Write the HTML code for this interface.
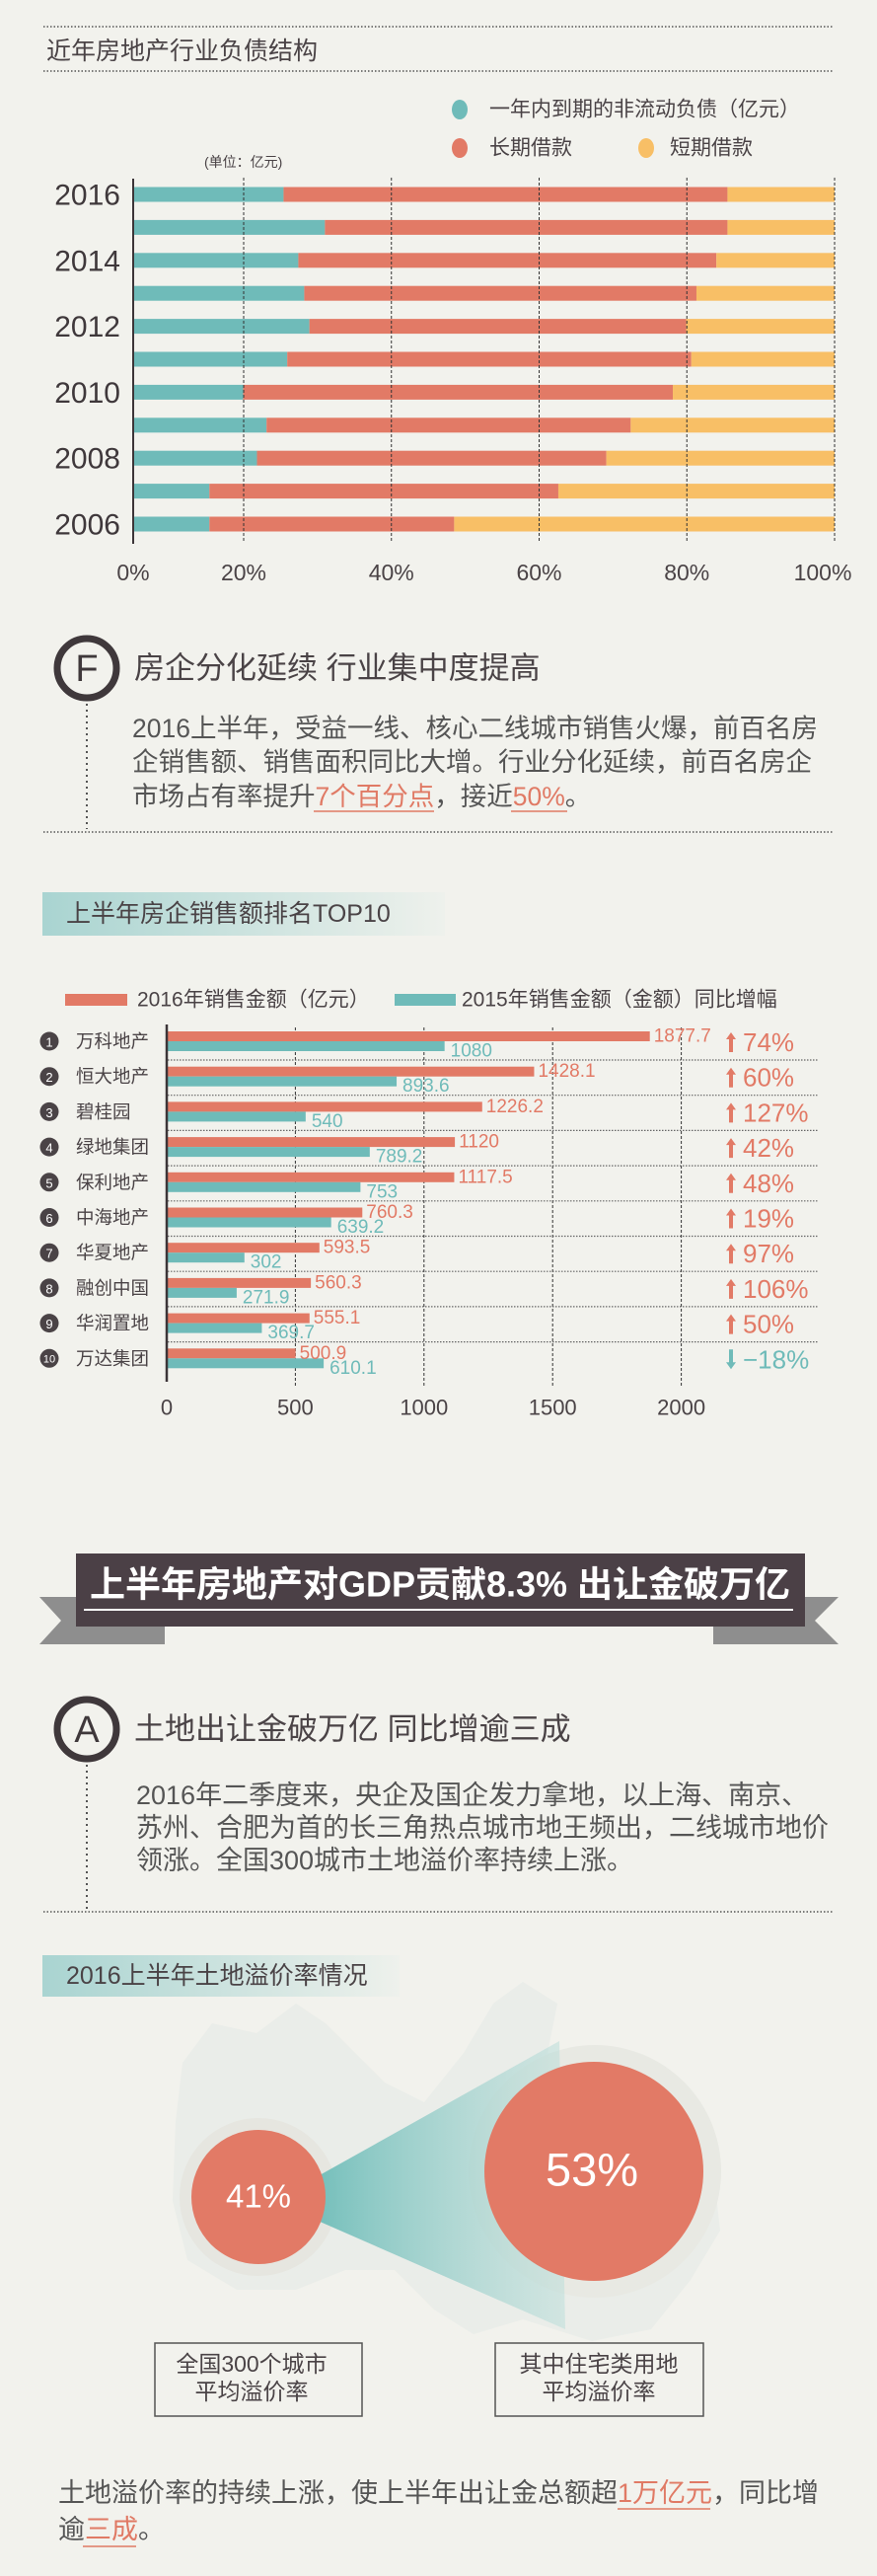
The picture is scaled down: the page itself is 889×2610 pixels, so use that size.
<!DOCTYPE html>
<html><head><meta charset="utf-8">
<style>
html,body{margin:0;padding:0;background:#f2f2ed;}
svg{display:block;}
text{font-family:"Liberation Sans","Noto Sans CJK SC",sans-serif;}
</style></head>
<body>
<svg id="page" width="889" height="2610" viewBox="0 0 889 2610" xmlns="http://www.w3.org/2000/svg">
<defs>
<linearGradient id="tbg" x1="0" x2="1" y1="0" y2="0"><stop offset="0" stop-color="#a9d4d1"/><stop offset="1" stop-color="#eef1ec"/></linearGradient>
<linearGradient id="cone" x1="0" x2="1" y1="0" y2="0"><stop offset="0" stop-color="#6fbdb9" stop-opacity="0.95"/><stop offset="1" stop-color="#b9ddd9" stop-opacity="0.5"/></linearGradient>
</defs>
<rect width="889" height="2610" fill="#f2f2ed"/>

<!-- Section 1 -->
<g>
<line x1="44" y1="27" x2="845" y2="27" stroke="#555" stroke-width="1.5" stroke-dasharray="1.5 2"/>
<text x="47" y="52" font-size="25" fill="#4a4346" dominant-baseline="central">近年房地产行业负债结构</text>
<line x1="44" y1="72" x2="845" y2="72" stroke="#555" stroke-width="1.5" stroke-dasharray="1.5 2"/>
<g>
<ellipse cx="466" cy="111" rx="8" ry="10" fill="#6fbbb9"/>
<text x="496" y="111" font-size="21" fill="#4a4346" dominant-baseline="central">一年内到期的非流动负债（亿元）</text>
<ellipse cx="466" cy="150" rx="8" ry="10" fill="#e27a66"/>
<text x="496" y="150" font-size="21" fill="#4a4346" dominant-baseline="central">长期借款</text>
<ellipse cx="655" cy="150" rx="8" ry="10" fill="#f8bf66"/>
<text x="679" y="150" font-size="21" fill="#4a4346" dominant-baseline="central">短期借款</text>
</g>
<text x="207" y="164" font-size="14" fill="#4a4346" dominant-baseline="central">(单位：亿元)</text>
<g id="chart1"></g>
</g>

<!-- Section F -->
<g>
<circle cx="88" cy="677" r="30" fill="none" stroke="#3f383b" stroke-width="7"/>
<text x="88" y="678" font-size="38" fill="#3f383b" text-anchor="middle" dominant-baseline="central">F</text>
<text x="136" y="677" font-size="31" fill="#4a4346" dominant-baseline="central">房企分化延续 行业集中度提高</text>
<line x1="88" y1="713" x2="88" y2="840" stroke="#555" stroke-width="2" stroke-dasharray="2 4"/>
<g font-size="26.5" fill="#555">
<text x="134" y="738" dominant-baseline="central">2016上半年，受益一线、核心二线城市销售火爆，前百名房</text>
<text x="134" y="772" dominant-baseline="central">企销售额、销售面积同比大增。行业分化延续，前百名房企</text>
<text x="134" y="807" dominant-baseline="central">市场占有率提升<tspan fill="#e07a65">7个百分点</tspan>，接近<tspan fill="#e07a65">50%</tspan>。</text>
</g>
<line x1="318" y1="822" x2="440" y2="822" stroke="#e07a65" stroke-width="1.5"/>
<line x1="518" y1="822" x2="575" y2="822" stroke="#e07a65" stroke-width="1.5"/>
<line x1="44" y1="843" x2="845" y2="843" stroke="#555" stroke-width="1.5" stroke-dasharray="1.5 2"/>
</g>

<!-- Section TOP10 -->
<g>
<rect x="43" y="904" width="408" height="44" fill="url(#tbg)"/>
<text x="67" y="926" font-size="25" fill="#4a4346" dominant-baseline="central">上半年房企销售额排名TOP10</text>
<g>
<rect x="66" y="1007" width="63" height="12" fill="#e27a66"/>
<text x="139" y="1013" font-size="21" fill="#4a4346" dominant-baseline="central">2016年销售金额（亿元）</text>
<rect x="400" y="1007" width="62" height="12" fill="#6fbbb9"/>
<text x="468" y="1013" font-size="21" fill="#4a4346" dominant-baseline="central">2015年销售金额（金额）同比增幅</text>
</g>
<g id="chart2"></g>
</g>

<!-- Banner -->
<g>
<polygon points="40,1618 167,1618 167,1666 40,1666 62,1642" fill="#8e8e8e"/>
<polygon points="723,1618 850,1618 826,1642 850,1666 723,1666" fill="#8e8e8e"/>
<rect x="77" y="1574" width="739" height="74" fill="#4b4046"/>
<text x="446" y="1605" font-size="36" font-weight="bold" fill="#fff" text-anchor="middle" dominant-baseline="central">上半年房地产对GDP贡献8.3%  出让金破万亿</text>
<line x1="85" y1="1631" x2="804" y2="1631" stroke="#fff" stroke-width="2"/>
</g>

<!-- Section A -->
<g>
<circle cx="88" cy="1752" r="30" fill="none" stroke="#3f383b" stroke-width="7"/>
<text x="88" y="1753" font-size="38" fill="#3f383b" text-anchor="middle" dominant-baseline="central">A</text>
<text x="136" y="1752" font-size="31" fill="#4a4346" dominant-baseline="central">土地出让金破万亿 同比增逾三成</text>
<line x1="88" y1="1788" x2="88" y2="1935" stroke="#555" stroke-width="2" stroke-dasharray="2 4"/>
<g font-size="27" fill="#555">
<text x="138" y="1819" dominant-baseline="central">2016年二季度来，央企及国企发力拿地，以上海、南京、</text>
<text x="138" y="1852" dominant-baseline="central">苏州、合肥为首的长三角热点城市地王频出，二线城市地价</text>
<text x="138" y="1885" dominant-baseline="central">领涨。全国300城市土地溢价率持续上涨。</text>
</g>
<line x1="44" y1="1937" x2="845" y2="1937" stroke="#555" stroke-width="1.5" stroke-dasharray="1.5 2"/>
</g>

<!-- Land premium section -->
<g>
<rect x="43" y="1981" width="362" height="42" fill="url(#tbg)"/>
<text x="67" y="2002" font-size="25" fill="#4a4346" dominant-baseline="central">2016上半年土地溢价率情况</text>
<polygon fill="#e4eae6" opacity="0.6" points="185,2090 215,2050 260,2060 300,2030 330,2050 360,2080 390,2110 430,2130 470,2080 500,2030 530,2008 565,2030 555,2080 600,2080 640,2110 700,2130 722,2190 730,2260 700,2310 660,2360 600,2372 530,2350 480,2365 440,2340 400,2300 350,2300 300,2320 240,2320 190,2290 175,2230 178,2150"/>
<circle cx="262" cy="2226" r="80" fill="#e6e6e0"/>
<circle cx="603" cy="2200" r="128" fill="#e8e9e3"/>
<polygon points="322,2205 567,2068 573,2360 322,2250" fill="url(#cone)"/>
<circle cx="262" cy="2226" r="68" fill="#e27a66"/>
<circle cx="602" cy="2200" r="111" fill="#e27a66"/>
<text x="262" y="2225" font-size="33" fill="#fff" text-anchor="middle" dominant-baseline="central">41%</text>
<text x="600" y="2198" font-size="47" fill="#fff" text-anchor="middle" dominant-baseline="central">53%</text>
<rect x="157" y="2374" width="210" height="74" fill="none" stroke="#555" stroke-width="1.5"/>
<text x="255" y="2395" font-size="23" fill="#4a4346" text-anchor="middle" dominant-baseline="central">全国300个城市</text>
<text x="255" y="2423" font-size="23" fill="#4a4346" text-anchor="middle" dominant-baseline="central">平均溢价率</text>
<rect x="502" y="2374" width="211" height="74" fill="none" stroke="#555" stroke-width="1.5"/>
<text x="607" y="2395" font-size="23" fill="#4a4346" text-anchor="middle" dominant-baseline="central">其中住宅类用地</text>
<text x="607" y="2423" font-size="23" fill="#4a4346" text-anchor="middle" dominant-baseline="central">平均溢价率</text>
<g font-size="27" fill="#555">
<text x="59" y="2526" dominant-baseline="central">土地溢价率的持续上涨，使上半年出让金总额超<tspan fill="#e07a65">1万亿元</tspan>，同比增</text>
<text x="59" y="2563" dominant-baseline="central">逾<tspan fill="#e07a65">三成</tspan>。</text>
</g>
<line x1="626" y1="2542" x2="720" y2="2542" stroke="#e07a65" stroke-width="1.5"/>
<line x1="84" y1="2580" x2="138" y2="2580" stroke="#e07a65" stroke-width="1.5"/>
</g>
</svg>

<script>
const NS = "http://www.w3.org/2000/svg";
function mk(parent, tag, attrs, txt) {
  const e = document.createElementNS(NS, tag);
  for (const k in attrs) e.setAttribute(k, attrs[k]);
  if (txt !== undefined) e.textContent = txt;
  parent.appendChild(e);
  return e;
}

/* ---------- Chart 1: debt structure ---------- */
const debtYears = ['2016','2015','2014','2013','2012','2011','2010','2009','2008','2007','2006'];
const debtYearLabels = ['2016','','2014','','2012','','2010','','2008','','2006'];
const currentNonCurrent = [25.4,31.0,27.4,28.2,28.9,25.9,19.9,23.1,21.8,13.8,13.8];
const longTermLoans = [60.1,54.5,56.6,53.1,51.0,54.7,58.2,49.3,47.3,48.8,34.7];
const shortTermLoans = [14.5,14.5,16.0,18.7,20.1,19.4,21.9,27.6,30.9,37.4,51.5];
const debtTicks = [0,20,40,60,80,100];

(function(){
  const g = document.getElementById('chart1');
  const dom = [0,20,100], rng = [135,247,846];
  function x(v){ if (v <= dom[1]) return rng[0] + (v-dom[0])/(dom[1]-dom[0])*(rng[1]-rng[0]);
    return rng[1] + (v-dom[1])/(dom[2]-dom[1])*(rng[2]-rng[1]); }
  const y0 = 197, step = 33.4, bh = 15;
  function y(i){ return y0 + i*step; }
  debtYears.forEach((yr,i)=>{
    const segs = [[0,currentNonCurrent[i],'#6fbbb9','current-noncurrent'],
      [currentNonCurrent[i], currentNonCurrent[i]+longTermLoans[i],'#e27a66','long-term-loan'],
      [currentNonCurrent[i]+longTermLoans[i], currentNonCurrent[i]+longTermLoans[i]+shortTermLoans[i],'#f8bf66','short-term-loan']];
    segs.forEach(s=>{
      const r = mk(g,'rect',{x:x(s[0]),y:y(i)-bh/2,width:Math.max(0,x(s[1])-x(s[0])),height:bh,fill:s[2]});
      
      
    });
    if (debtYearLabels[i]) {
      const t = mk(g,'text',{x:122,y:y(i)+1,'font-size':30,fill:'#3f383b','text-anchor':'end','dominant-baseline':'central'},debtYearLabels[i]);
      
      
    }
  });
  debtTicks.forEach(v=>{
    if (v>0) {
      const l = mk(g,'line',{x1:x(v),x2:x(v),y1:180,y2:549,stroke:'#333','stroke-width':1,'stroke-dasharray':'3 2'});
      
      
    }
    const t = mk(g,'text',{x:x(v)+(v===100?-12:0),y:580,'font-size':23,fill:'#4a4346','text-anchor':'middle','dominant-baseline':'central'},v+'%');
    
    
  });
  const ax = mk(g,'line',{x1:135,x2:135,y1:181,y2:551,stroke:'#3c3538','stroke-width':2});
  
  
})();

/* ---------- Chart 2: TOP10 ---------- */
const companies = ['万科地产','恒大地产','碧桂园','绿地集团','保利地产','中海地产','华夏地产','融创中国','华润置地','万达集团'];
const sales2016 = [1877.7,1428.1,1226.2,1120,1117.5,760.3,593.5,560.3,555.1,500.9];
const sales2015 = [1080,893.6,540,789.2,753,639.2,302,271.9,369.7,610.1];
const growthPct = [74,60,127,42,48,19,97,106,50,-18];
const salesTicks = [0,500,1000,1500,2000];

(function(){
  const g = document.getElementById('chart2');
  const x0 = 169, k = 0.2608;
  function x(v){ return x0 + v*k; }
  const c0 = 1055, step = 35.7;
  function cy(i){ return c0 + i*step; }
  salesTicks.forEach(v=>{
    if (v>0) {
      const l = mk(g,'line',{x1:x(v),x2:x(v),y1:1041,y2:1405,stroke:'#333','stroke-width':1,'stroke-dasharray':'3 2'});
      
      
    }
    const t = mk(g,'text',{x:x(v),y:1426,'font-size':22,fill:'#4a4346','text-anchor':'middle','dominant-baseline':'central'},String(v));
    
    
  });
  companies.forEach((name,i)=>{
    const c = cy(i);
    if (i < companies.length-1) {
      const s = mk(g,'line',{x1:170,x2:829,y1:c+19,y2:c+19,stroke:'#666','stroke-width':1.2,'stroke-dasharray':'1.5 1.5'});
      
      
    }
    const r1 = mk(g,'rect',{x:x(0),y:c-10,width:x(sales2016[i])-x(0),height:10,fill:'#e27a66'});
    
    
    const r2 = mk(g,'rect',{x:x(0),y:c,width:x(sales2015[i])-x(0),height:10,fill:'#6fbbb9'});
    
    
    const t1 = mk(g,'text',{x:x(sales2016[i])+4,y:c-5,'font-size':19,fill:'#e27a66','dominant-baseline':'central'},String(sales2016[i]));
    
    
    const t2 = mk(g,'text',{x:x(sales2015[i])+6,y:c+10,'font-size':19,fill:'#6fbbb9','dominant-baseline':'central'},String(sales2015[i]));
    
    
    const b = mk(g,'circle',{cx:50,cy:c,r:9.5,fill:'#4a4346'});
    
    
    const bt = mk(g,'text',{x:50,y:c+1,'font-size':i===9?11:13,fill:'#fff','text-anchor':'middle','dominant-baseline':'central'},String(i+1));
    
    
    const nt = mk(g,'text',{x:77,y:c,'font-size':18.5,fill:'#4a4346','dominant-baseline':'central'},name);
    
    
    const up = growthPct[i] >= 0;
    const col = up ? '#e27a66' : '#6fbbb9';
    const ay = c+1;
    const arrow = mk(g,'polygon',{points: up
      ? `741,${ay-10} 746,${ay-3} 743,${ay-3} 743,${ay+10} 739,${ay+10} 739,${ay-3} 736,${ay-3}`
      : `741,${ay+10} 746,${ay+3} 743,${ay+3} 743,${ay-10} 739,${ay-10} 739,${ay+3} 736,${ay+3}`, fill: col});
    
    
    const gt = mk(g,'text',{x:753,y:c+1,'font-size':26,fill:col,'dominant-baseline':'central'},(up?'':'−')+Math.abs(growthPct[i])+'%');
    
    
  });
  const ax = mk(g,'line',{x1:169,x2:169,y1:1038,y2:1400,stroke:'#3c3538','stroke-width':2.5});
  
  
})();
</script>
</body></html>
